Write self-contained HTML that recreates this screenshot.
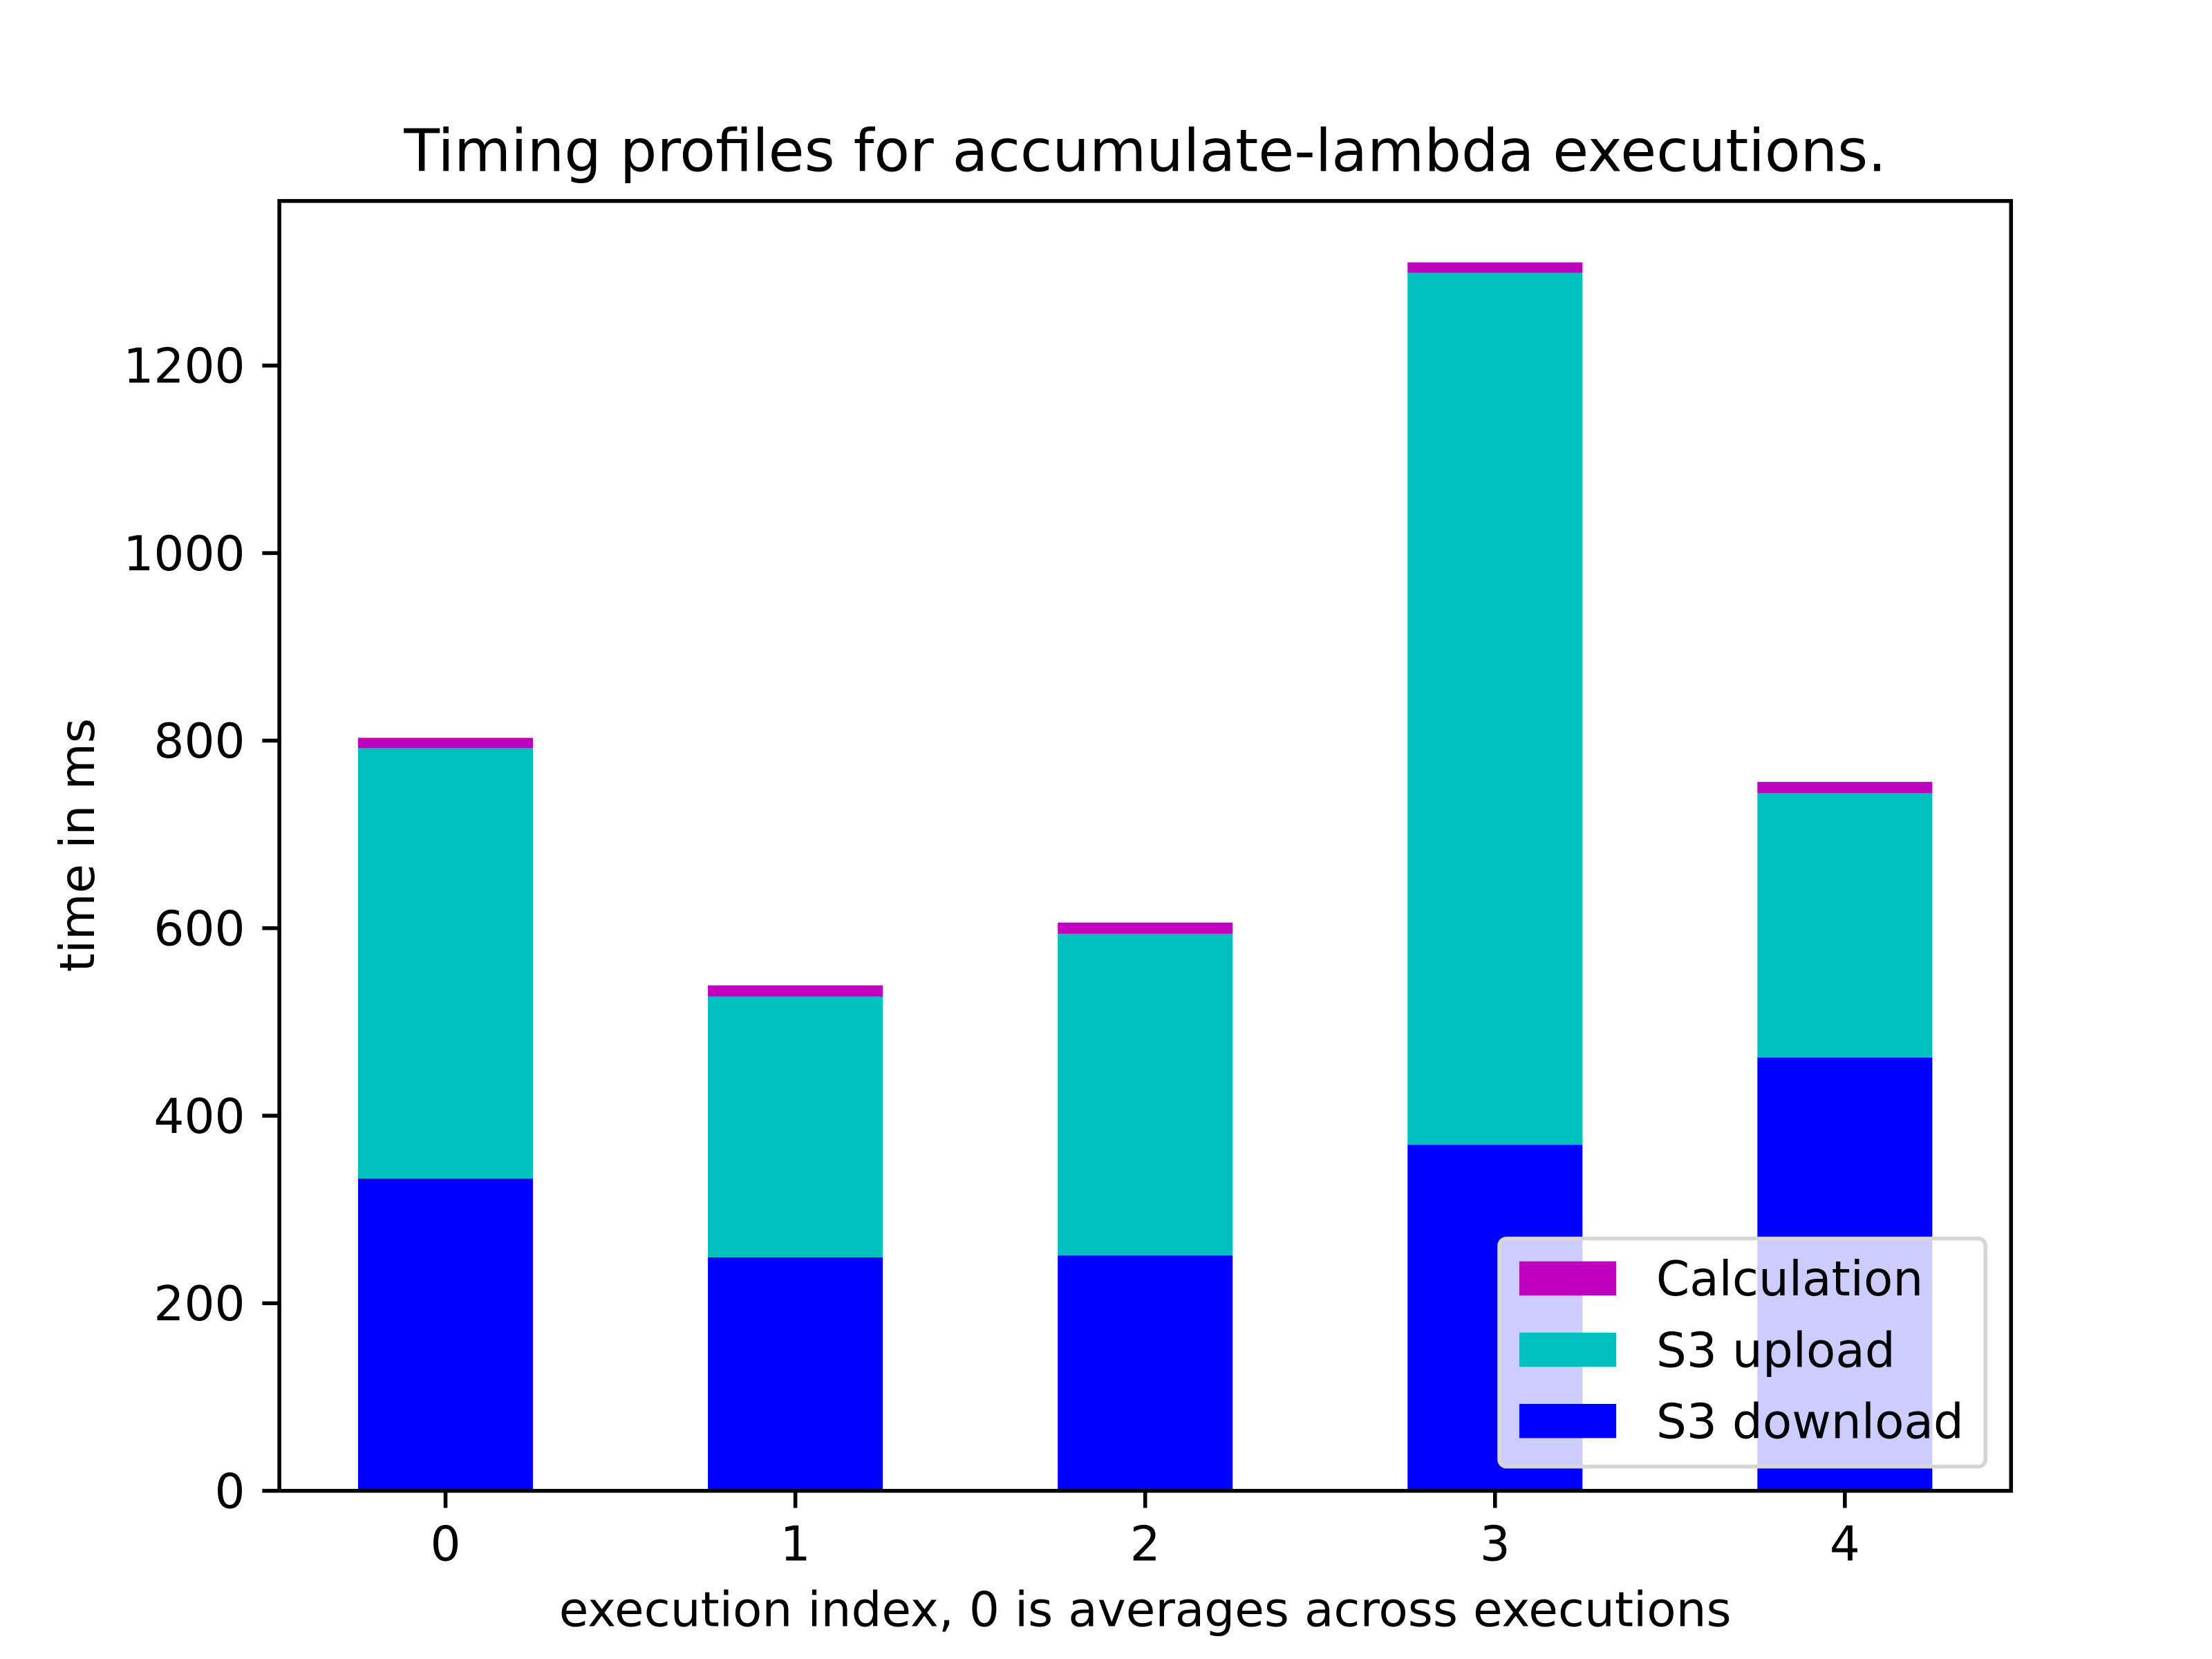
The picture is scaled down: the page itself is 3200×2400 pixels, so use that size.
<!DOCTYPE html>
<html><head><meta charset="utf-8"><style>
html,body{margin:0;padding:0;background:#fff;}
svg{display:block;font-family:"DejaVu Sans","Liberation Sans",sans-serif;}
</style></head><body>
<svg id="chart" width="3200" height="2400" viewBox="0 0 1552 1164" xmlns="http://www.w3.org/2000/svg">
<rect x="0" y="0" width="1552" height="1164" fill="#fff"/>
<g id="bars"></g>
<g id="axes"></g>
<text x="803.5" y="120" font-size="41" text-anchor="middle" fill="#000">Timing profiles for accumulate-lambda executions.</text>
<text x="803.5" y="1141" font-size="33.6" text-anchor="middle" fill="#000">execution index, 0 is averages across executions</text>
<text x="0" y="0" font-size="33.6" text-anchor="middle" fill="#000" transform="translate(66,593) rotate(-90)">time in ms</text>
<g id="legend"></g>
</svg>
<script>
const categories = ["0","1","2","3","4"];
const download = [333, 249, 251, 369, 462];
const upload = [459, 278, 343, 930, 282];
const calculation = [11, 12, 12, 11, 12];
const yTicks = [0, 200, 400, 600, 800, 1000, 1200];
const seriesNames = ["Calculation", "S3 upload", "S3 download"];
const seriesColors = ["#bf00bf", "#00bfbf", "#0000ff"];

const NS = "http://www.w3.org/2000/svg";
const L = 196, R = 1411, T = 141, B = 1046;
const totals = categories.map((c, i) => download[i] + upload[i] + calculation[i]);
const yMax = Math.max(...totals) * 1.05;
const xMin = -0.475, xMax = categories.length - 1 + 0.475;
const xs = v => L + (v - xMin) / (xMax - xMin) * (R - L);
const ys = v => B - v / yMax * (B - T);
function mk(tag, attrs, parent) {
  const e = document.createElementNS(NS, tag);
  for (const k in attrs) e.setAttribute(k, attrs[k]);
  parent.appendChild(e);
  return e;
}
const bars = document.getElementById("bars");
const axes = document.getElementById("axes");
const legend = document.getElementById("legend");
const bw = 0.5;
categories.forEach((c, i) => {
  const x0 = xs(i - bw / 2), w = xs(i + bw / 2) - x0;
  const segs = [[0, download[i], seriesColors[2], "download"], [download[i], upload[i], seriesColors[1], "upload"], [download[i] + upload[i], calculation[i], seriesColors[0], "calculation"]];
  segs.forEach(s => {
    const r = mk("rect", {x: x0, y: ys(s[0] + s[1]), width: w, height: ys(s[0]) - ys(s[0] + s[1]), fill: s[2]}, bars);
    
    
  });
});
const frame = mk("rect", {x: L, y: T, width: R - L, height: B - T, fill: "none", stroke: "#000", "stroke-width": 2.7}, axes);


yTicks.forEach(t => {
  const y = ys(t);
  const tk = mk("line", {x1: L - 12, x2: L, y1: y, y2: y, stroke: "#000", "stroke-width": 2.7}, axes);
  
  
  const tx = mk("text", {x: L - 24, y: y + 12, "font-size": 33.6, "text-anchor": "end"}, axes);
  tx.textContent = t;
  
  
});
categories.forEach((c, i) => {
  const x = xs(i);
  const tk = mk("line", {x1: x, x2: x, y1: B, y2: B + 12, stroke: "#000", "stroke-width": 2.7}, axes);
  
  
  const tx = mk("text", {x: x, y: B + 49, "font-size": 33.6, "text-anchor": "middle"}, axes);
  tx.textContent = c;
  
  
});
const box = mk("rect", {x: 1052, y: 869, width: 341, height: 160, rx: 5, fill: "#fff", "fill-opacity": 0.8, stroke: "#d6d6d6", "stroke-width": 2.7}, legend);


seriesNames.forEach((n, k) => {
  const cy = 897 + k * 50;
  const p = mk("rect", {x: 1066, y: cy - 12, width: 68, height: 24, fill: seriesColors[k]}, legend);
  
  
  const t = mk("text", {x: 1162, y: cy + 12, "font-size": 33.6}, legend);
  t.textContent = n;
  
  
});
</script>
</body></html>
